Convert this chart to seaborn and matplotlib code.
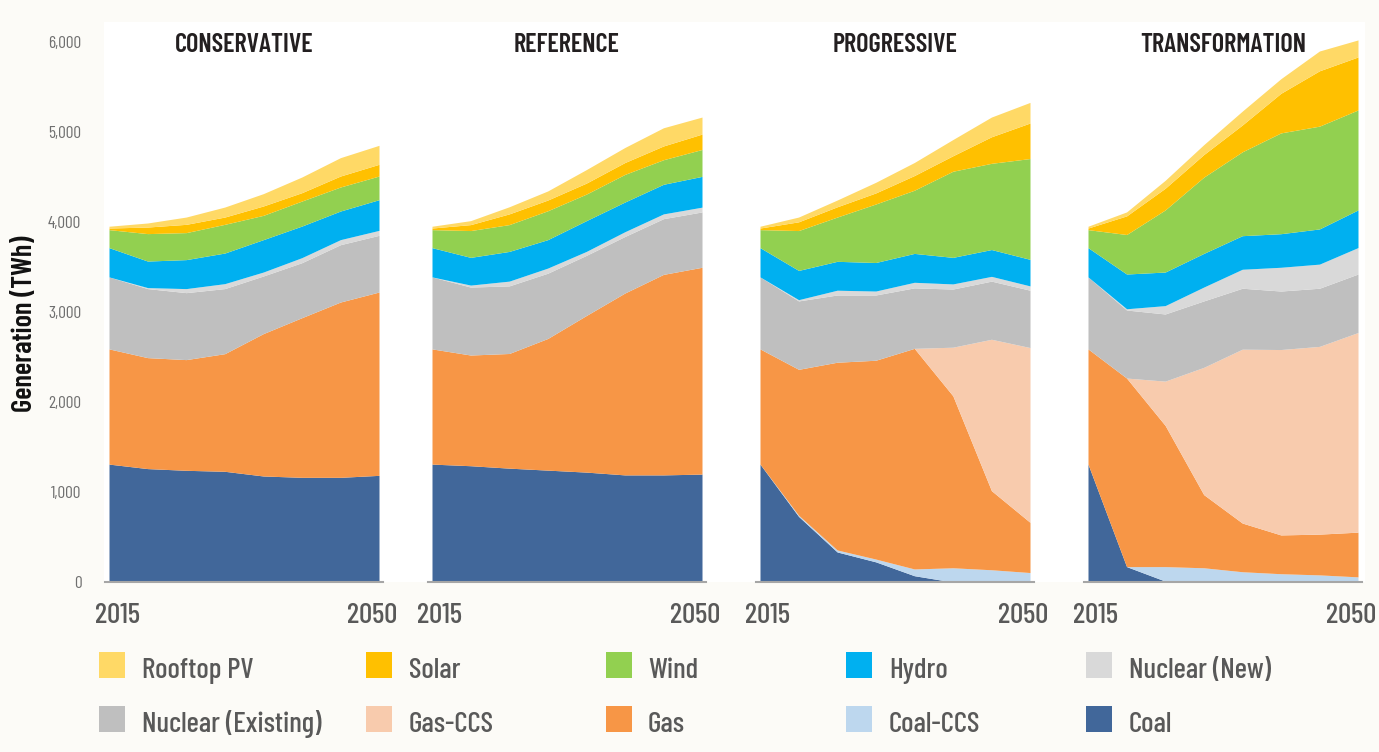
import matplotlib
matplotlib.use("Agg")
import matplotlib.pyplot as plt
import matplotlib.transforms as mtransforms
from matplotlib.patches import Rectangle
import seaborn as sns

# ---------------- data ----------------
years = [2015, 2020, 2025, 2030, 2035, 2040, 2045, 2050]
scenarios = ["CONSERVATIVE", "REFERENCE", "PROGRESSIVE", "TRANSFORMATION"]
# stacking order, bottom -> top
sources = ["Coal", "Coal-CCS", "Gas", "Gas-CCS", "Nuclear (Existing)",
           "Nuclear (New)", "Hydro", "Wind", "Solar", "Rooftop PV"]
colors = {
    "Coal": "#41679A", "Coal-CCS": "#BDD7EE", "Gas": "#F79646",
    "Gas-CCS": "#F8CBAD", "Nuclear (Existing)": "#BFBFBF",
    "Nuclear (New)": "#D9D9D9", "Hydro": "#00B0F0", "Wind": "#92D050",
    "Solar": "#FFC000", "Rooftop PV": "#FFD966",
}
legend_rows = [["Rooftop PV", "Solar", "Wind", "Hydro", "Nuclear (New)"],
               ["Nuclear (Existing)", "Gas-CCS", "Gas", "Coal-CCS", "Coal"]]

conservative = {
    "Coal":               [1310, 1260, 1241, 1230, 1178, 1163, 1163, 1185],
    "Coal-CCS":           [0, 0, 0, 0, 0, 0, 0, 0],
    "Gas":                [1280, 1233, 1230, 1307, 1582, 1774, 1948, 2037],
    "Gas-CCS":            [0, 0, 0, 0, 0, 0, 0, 0],
    "Nuclear (Existing)": [800, 767, 744, 723, 640, 611, 637, 630],
    "Nuclear (New)":      [0, 11, 45, 55, 44, 56, 56, 55],
    "Hydro":              [325, 295, 322, 340, 360, 351, 318, 341],
    "Wind":               [200, 305, 300, 319, 270, 278, 267, 263],
    "Solar":              [18, 73, 92, 81, 104, 93, 122, 130],
    "Rooftop PV":         [20, 45, 81, 111, 137, 174, 204, 211],
}
reference = {
    "Coal":               [1310, 1292, 1265, 1243, 1221, 1190, 1190, 1199],
    "Coal-CCS":           [0, 0, 0, 0, 0, 0, 0, 0],
    "Gas":                [1280, 1230, 1274, 1463, 1740, 2021, 2228, 2298],
    "Gas-CCS":            [0, 0, 0, 0, 0, 0, 0, 0],
    "Nuclear (Existing)": [800, 755, 751, 725, 668, 628, 619, 615],
    "Nuclear (New)":      [0, 22, 53, 57, 44, 53, 53, 53],
    "Hydro":              [325, 308, 330, 316, 342, 330, 329, 342],
    "Wind":               [200, 298, 298, 321, 295, 307, 273, 299],
    "Solar":              [18, 66, 119, 119, 122, 132, 153, 171],
    "Rooftop PV":         [20, 44, 79, 101, 150, 167, 202, 189],
}
progressive = {
    "Coal":               [1310, 729, 334, 224, 70, 0, 0, 0],
    "Coal-CCS":           [0, 13, 22, 31, 75, 158, 136, 105],
    "Gas":                [1280, 1621, 2086, 2209, 2451, 1911, 879, 558],
    "Gas-CCS":            [0, 0, 0, 0, 0, 540, 1682, 1942],
    "Nuclear (Existing)": [800, 760, 747, 725, 672, 646, 646, 637],
    "Nuclear (New)":      [0, 14, 53, 44, 62, 57, 53, 48],
    "Hydro":              [325, 325, 321, 317, 321, 295, 298, 295],
    "Wind":               [200, 443, 492, 650, 702, 957, 958, 1120],
    "Solar":              [18, 97, 114, 123, 163, 172, 295, 395],
    "Rooftop PV":         [20, 53, 75, 118, 145, 180, 219, 229],
}
transformation = {
    "Coal":               [1310, 171, 10, 0, 0, 0, 0, 0],
    "Coal-CCS":           [0, 0, 161, 158, 114, 92, 79, 57],
    "Gas":                [1280, 2095, 1569, 813, 541, 431, 453, 497],
    "Gas-CCS":            [0, 0, 492, 1414, 1932, 2060, 2086, 2218],
    "Nuclear (Existing)": [800, 756, 746, 738, 677, 650, 646, 650],
    "Nuclear (New)":      [0, 14, 93, 154, 211, 264, 268, 294],
    "Hydro":              [325, 386, 373, 374, 373, 373, 391, 418],
    "Wind":               [200, 439, 690, 847, 932, 1120, 1142, 1111],
    "Solar":              [18, 207, 241, 251, 298, 440, 615, 589],
    "Rooftop PV":         [20, 44, 88, 110, 154, 162, 220, 189],
}
scenario_data = [conservative, reference, progressive, transformation]
y_ticks = [0, 1000, 2000, 3000, 4000, 5000, 6000]
x_ticks = [2015, 2050]

# ---------------- style ----------------
BG = "#FCFBF7"
sns.set_theme(style="white")
plt.rcParams["font.family"] = ["Barlow Condensed", "DejaVu Sans"]

W, H = 1379, 752
fig = plt.figure(figsize=(W / 100, H / 100), dpi=100, facecolor=BG)


def fx(px):
    return px / W


def fy(py):
    return 1 - py / H


# white plotting backdrop behind the four panels
fig.patches.append(Rectangle((fx(104), fy(582)), fx(1365) - fx(104), fy(22) - fy(582),
                             transform=fig.transFigure, facecolor="white",
                             edgecolor="none", zorder=-10))

lefts = [105, 428, 756, 1084]
AX_W = 278
AX_TOP, AX_BOT = 24, 582
YMAX = 6200
margin = 4 / (270 / 35)

for i, (name, data) in enumerate(zip(scenarios, scenario_data)):
    ax = fig.add_axes([fx(lefts[i]), fy(AX_BOT), AX_W / W, (AX_BOT - AX_TOP) / H])
    ax.set_facecolor("none")
    ax.stackplot(years, [data[s] for s in sources],
                 colors=[colors[s] for s in sources], linewidth=0)
    ax.set_xlim(2015 - margin, 2050 + margin)
    ax.set_ylim(0, YMAX)
    sns.despine(ax=ax, left=True, top=True, right=True)
    ax.spines["bottom"].set_color("#A6A6A6")
    ax.spines["bottom"].set_linewidth(1.5)
    ax.set_xticks(x_ticks)
    ax.set_xticklabels([str(x) for x in x_ticks])
    ax.tick_params(axis="x", length=0, pad=15, labelsize=21, labelcolor="#595959")
    for lab in ax.get_xticklabels():
        lab.set_fontweight("medium")
    offs = [8, -7]
    for lab, o in zip(ax.get_xticklabels(), offs):
        lab.set_transform(lab.get_transform() +
                          mtransforms.ScaledTranslation(o / 100, 0, fig.dpi_scale_trans))
    if i == 0:
        ax.set_yticks(y_ticks)
        ax.set_yticklabels([f"{v:,}" for v in y_ticks])
        ax.tick_params(axis="y", length=0, pad=17, labelsize=12.5, labelcolor="#6F6F6F")
    else:
        ax.set_yticks([])
    ax.grid(False)
    ax.text(0.5, (AX_BOT - 45) / (AX_BOT - AX_TOP), name, transform=ax.transAxes,
            ha="center", va="center", fontsize=19, fontweight="semibold",
            color="#231F20", zorder=5)

fig.text(fx(25), fy(324), "Generation (TWh)", rotation=90, ha="center", va="center",
         fontsize=20.5, fontweight="semibold", color="#111111")

# legend (two rows of five swatches)
sq_x = [99, 366, 606, 846, 1086]
txt_x = [142, 409, 648, 889, 1129]
row_top = [652, 706]
for r, row in enumerate(legend_rows):
    for c, lab in enumerate(row):
        fig.patches.append(Rectangle((fx(sq_x[c]), fy(row_top[r] + 26)), 26 / W, 26 / H,
                                     transform=fig.transFigure, facecolor=colors[lab],
                                     edgecolor="none"))
        fig.text(fx(txt_x[c]), fy(row_top[r] + 26), lab, ha="left", va="baseline",
                 fontsize=21, fontweight="medium", color="#595959")

fig.savefig("out.png", dpi=100, facecolor=BG)
